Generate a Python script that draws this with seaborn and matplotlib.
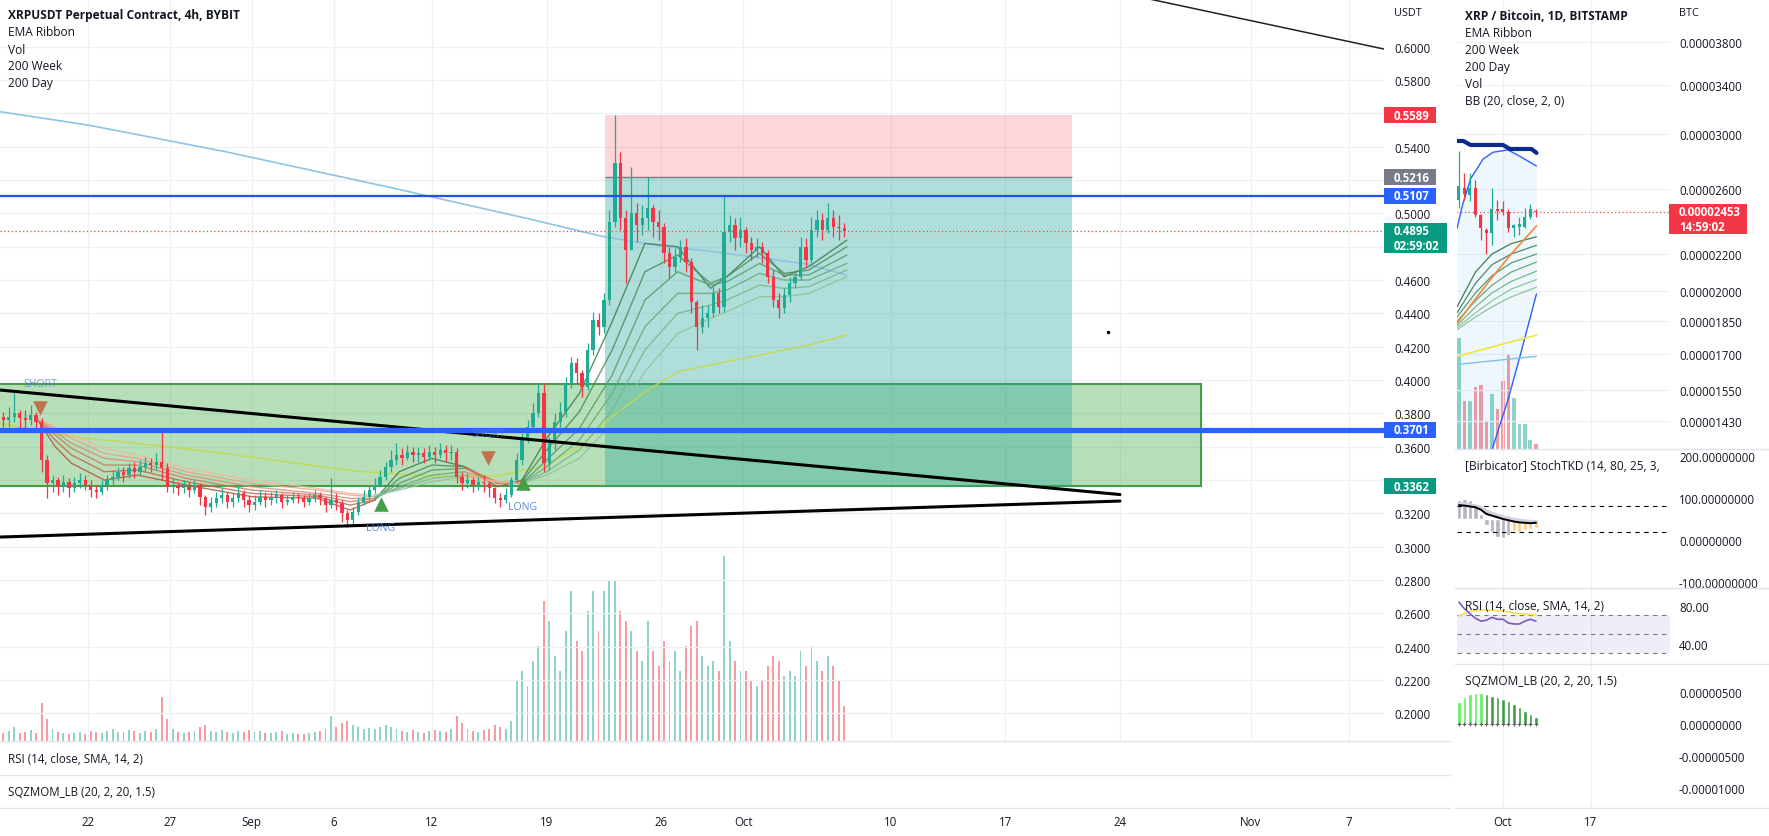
import numpy as np
import seaborn as sns
import matplotlib.pyplot as plt
from matplotlib.patches import Rectangle
from matplotlib.lines import Line2D
from matplotlib.ticker import NullLocator

# =================================================================
# 1. Data
# =================================================================
# --- left chart: XRPUSDT, shown here as 8h candles, x = days since Aug 22
CANDLE_START = -16 / 3          # Aug 16, 16:00
CANDLE_STEP = 1 / 3
open_first = 0.378

close_8h = [
    0.376,
    0.378, 0.380, 0.377,  0.376, 0.379, 0.375,  0.352, 0.338, 0.340,   # Aug 17-19
    0.336, 0.339, 0.335,  0.338, 0.340, 0.337,  0.334, 0.333, 0.337,   # Aug 20-22
    0.340, 0.342, 0.345,  0.343, 0.347, 0.345,  0.348, 0.350, 0.349,   # Aug 23-25
    0.351, 0.347, 0.336,  0.337, 0.335, 0.336,  0.334, 0.337, 0.330,   # Aug 26-28
    0.324, 0.326, 0.329,  0.331, 0.327, 0.329,  0.332, 0.328, 0.325,   # Aug 29-31
    0.327, 0.330, 0.328,  0.329, 0.331, 0.327,  0.328, 0.330, 0.329,   # Sep 1-3
    0.327, 0.329, 0.331,  0.329, 0.325, 0.328,  0.326, 0.320, 0.316,   # Sep 4-6
    0.321, 0.327, 0.330,  0.334, 0.337, 0.342,  0.348, 0.352, 0.355,   # Sep 7-9
    0.353, 0.357, 0.355,  0.356, 0.354, 0.357,  0.355, 0.358, 0.356,   # Sep 10-12
    0.357, 0.342, 0.338,  0.340, 0.337, 0.339,  0.338, 0.335, 0.329,   # Sep 13-15
    0.328, 0.331, 0.340,  0.352, 0.365, 0.372,  0.380, 0.392, 0.350,   # Sep 16-18
    0.362, 0.375, 0.381,  0.398, 0.410, 0.404,  0.396, 0.418, 0.436,   # Sep 19-21
    0.432, 0.448, 0.495,  0.530, 0.497, 0.478,  0.500, 0.493, 0.497,   # Sep 22-24
    0.503, 0.495, 0.492,  0.476, 0.468, 0.474,  0.480, 0.471, 0.447,   # Sep 25-27
    0.432, 0.437, 0.440,  0.452, 0.444, 0.489,  0.493, 0.485, 0.490,   # Sep 28-30
    0.482, 0.478, 0.480,  0.476, 0.462, 0.448,  0.443, 0.451, 0.458,   # Oct 1-3
    0.462, 0.480, 0.472,  0.490, 0.496, 0.490,  0.497, 0.492, 0.491,   # Oct 4-6
    0.4895,
]
high_8h = [
    0.381,
    0.384, 0.393, 0.382,  0.382, 0.385, 0.381,  0.377, 0.355, 0.343,
    0.342, 0.343, 0.341,  0.342, 0.344, 0.343,  0.340, 0.337, 0.340,
    0.343, 0.346, 0.348,  0.348, 0.350, 0.351,  0.352, 0.354, 0.353,
    0.356, 0.370, 0.350,  0.341, 0.339, 0.340,  0.339, 0.340, 0.338,
    0.331, 0.330, 0.333,  0.335, 0.333, 0.332,  0.336, 0.334, 0.331,
    0.331, 0.334, 0.333,  0.333, 0.334, 0.332,  0.331, 0.333, 0.332,
    0.331, 0.332, 0.334,  0.333, 0.330, 0.341,  0.332, 0.328, 0.322,
    0.324, 0.330, 0.334,  0.337, 0.341, 0.346,  0.351, 0.358, 0.362,
    0.359, 0.361, 0.360,  0.360, 0.359, 0.361,  0.360, 0.362, 0.361,
    0.361, 0.359, 0.345,  0.344, 0.342, 0.342,  0.343, 0.339, 0.336,
    0.332, 0.335, 0.342,  0.356, 0.368, 0.376,  0.386, 0.398, 0.398,
    0.366, 0.380, 0.387,  0.402, 0.414, 0.413,  0.406, 0.422, 0.441,
    0.440, 0.452, 0.502,  0.559, 0.537, 0.502,  0.528, 0.506, 0.505,
    0.522, 0.505, 0.502,  0.494, 0.480, 0.479,  0.484, 0.485, 0.473,
    0.448, 0.445, 0.445,  0.456, 0.455, 0.511,  0.499, 0.497, 0.498,
    0.492, 0.486, 0.485,  0.483, 0.478, 0.466,  0.452, 0.455, 0.462,
    0.466, 0.486, 0.485,  0.498, 0.502, 0.500,  0.506, 0.502, 0.499,
    0.494,
]
low_8h = [
    0.372,
    0.372, 0.375, 0.371,  0.370, 0.373, 0.369,  0.345, 0.329, 0.333,
    0.331, 0.333, 0.330,  0.333, 0.335, 0.334,  0.330, 0.329, 0.331,
    0.334, 0.337, 0.340,  0.339, 0.341, 0.341,  0.343, 0.345, 0.345,
    0.346, 0.340, 0.333,  0.332, 0.331, 0.332,  0.330, 0.332, 0.325,
    0.319, 0.321, 0.324,  0.326, 0.323, 0.324,  0.327, 0.324, 0.321,
    0.322, 0.325, 0.324,  0.325, 0.326, 0.323,  0.325, 0.326, 0.326,
    0.324, 0.325, 0.327,  0.325, 0.321, 0.323,  0.322, 0.315, 0.312,
    0.313, 0.319, 0.325,  0.328, 0.332, 0.336,  0.340, 0.345, 0.349,
    0.349, 0.352, 0.351,  0.351, 0.350, 0.352,  0.350, 0.353, 0.351,
    0.352, 0.338, 0.334,  0.335, 0.333, 0.334,  0.333, 0.330, 0.326,
    0.324, 0.326, 0.330,  0.338, 0.349, 0.362,  0.370, 0.378, 0.345,
    0.346, 0.358, 0.372,  0.378, 0.395, 0.398,  0.390, 0.394, 0.415,
    0.427, 0.428, 0.445,  0.492, 0.490, 0.458,  0.478, 0.483, 0.487,
    0.490, 0.486, 0.484,  0.470, 0.461, 0.465,  0.471, 0.465, 0.440,
    0.418, 0.428, 0.432,  0.438, 0.440, 0.441,  0.483, 0.478, 0.480,
    0.476, 0.472, 0.474,  0.470, 0.458, 0.444,  0.437, 0.440, 0.447,
    0.455, 0.460, 0.468,  0.470, 0.486, 0.484,  0.488, 0.486, 0.484,
    0.486,
]
vol_8h = [
    8,
    10, 14, 8,   9, 11, 8,   38, 22, 12,
    9, 8, 7,     8, 9, 7,    10, 9, 8,
    10, 12, 9,   9, 11, 10,  8, 10, 9,
    12, 44, 22,  12, 9, 8,   9, 10, 14,
    16, 10, 9,   11, 9, 8,   10, 9, 11,
    9, 10, 8,    8, 9, 10,   7, 8, 7,
    7, 8, 9,     10, 12, 25, 14, 18, 20,
    16, 14, 12,  13, 12, 14, 16, 14, 12,
    10, 9, 11,   9, 8, 10,   11, 10, 9,
    12, 25, 18,  12, 10, 9,  11, 12, 16,
    14, 12, 20,  60, 70, 55, 80, 95, 140,
    120, 85, 70, 110, 150, 100, 90, 130, 150,
    110, 150, 160, 160, 130, 120, 110, 90, 80,
    120, 90, 75, 100, 80, 90, 70, 95, 115,
    120, 85, 75, 80, 70, 185, 100, 80, 70,
    70, 60, 55,  60, 75, 85, 80, 65, 70,
    65, 90, 75,  95, 80, 70, 85, 75, 60,
    35,
]

# moving averages on the left chart
ma_blue_days = [-5.37, 0, 8.4, 18.7, 27.0, 31.3, 34.9, 38.2, 41.5, 43.9, 46.3]
ma_blue_vals = [0.561, 0.553, 0.537, 0.515, 0.4965, 0.4864, 0.4805, 0.477, 0.4727, 0.4696, 0.463]
ma_yellow_days = [-5.37, -1, 2.5, 7.7, 16.4, 20.8, 25, 27.7, 30, 32, 34, 36, 40, 44, 46.3]
ma_yellow_vals = [0.374, 0.366, 0.3625, 0.3567, 0.3453, 0.3424, 0.3425, 0.348, 0.36, 0.378,
                  0.393, 0.405, 0.413, 0.421, 0.427]

# EMA ribbon (fast -> slow)
ribbon_days = [-3, -2, -1, 1, 3, 6, 10, 14, 16, 17.5, 19, 21, 23, 25, 26.5, 28, 30, 32, 34,
               36, 38, 39, 41, 42.5, 44, 46.33]
ribbon_1 = [.375, .360, .350, .340, .343, .337, .330, .329, .322, .328, .345, .353, .348, .336,
            .340, .365, .392, .435, .482, .480, .455, .462, .480, .462, .468, .484]
ribbon_2 = [.375, .364, .355, .345, .346, .339, .332, .330, .325, .328, .341, .349, .348, .338,
            .339, .358, .381, .418, .465, .475, .458, .462, .476, .464, .466, .480]
ribbon_3 = [.376, .367, .359, .349, .349, .341, .334, .331, .327, .329, .338, .346, .347, .339,
            .338, .352, .371, .403, .448, .465, .457, .459, .470, .463, .463, .475]
ribbon_4 = [.376, .369, .362, .353, .351, .343, .336, .332, .329, .329, .336, .343, .345, .339,
            .338, .348, .364, .392, .432, .452, .452, .454, .464, .460, .460, .470]
ribbon_5 = [.376, .371, .365, .356, .353, .345, .338, .334, .331, .330, .335, .341, .343, .339,
            .338, .345, .358, .382, .418, .440, .445, .448, .457, .455, .456, .466]
ribbon_6 = [.377, .372, .367, .359, .355, .347, .340, .335, .332, .331, .334, .339, .342, .339,
            .338, .343, .353, .374, .405, .428, .437, .441, .450, .450, .452, .462]
ribbon_up_periods = [(17.5, 23), (26.5, 46.33)]

# drawings
trend_down_days, trend_down_vals = [-5.37, 63.0], [0.394, 0.3313]
trend_up_days, trend_up_vals = [-5.37, 63.0], [0.3058, 0.3274]
trend_top_days, trend_top_vals = [64.8, 79.12], [0.6286, 0.5986]
level_thick, level_thin, last_price = 0.3701, 0.5107, 0.4895
zone_days, zone_prices = (-10, 67.95), (0.3362, 0.3975)
pos_days = (31.56, 60.07)
pos_stop, pos_entry, pos_target = 0.5589, 0.5216, 0.3362
short_days, short_vals = [-2.93, 24.42], [0.3832, 0.3532]
long_days, long_vals = [17.89, 26.56], [0.3256, 0.3382]
stray_dot = (62.3, 0.4288)

price_ticks = [0.20, 0.22, 0.24, 0.26, 0.28, 0.30, 0.32, 0.34, 0.36, 0.38, 0.40,
               0.42, 0.44, 0.46, 0.48, 0.50, 0.52, 0.54, 0.56, 0.58, 0.60]
hidden_ticks = [0.34, 0.48, 0.52, 0.56]      # covered by the price tags
date_tick_days = [0, 5, 10, 15, 21, 28, 35, 40, 49, 56, 63, 71, 77]
date_tick_labels = ["22", "27", "Sep", "6", "12", "19", "26", "Oct", "10", "17", "24", "Nov", "7"]

# --- right chart: XRP / BTC daily, x = days since Oct 1, prices in 1e-6 BTC
r_days = [-8, -7, -6, -5, -4, -3, -2, -1, 0, 1, 2, 3, 4, 5, 6]
r_open = [25.3, 26.1, 25.6, 26.1, 24.3, 23.4, 23.2, 24.7, 24.7, 24.5, 23.5, 23.6, 23.6, 24.2, 24.6]
r_close = [26.2, 25.7, 26.1, 24.3, 23.5, 23.2, 24.7, 24.6, 24.5, 23.5, 23.7, 23.8, 24.2, 24.7, 24.53]
r_high = [28.7, 27.1, 27.1, 26.6, 24.4, 23.5, 26.1, 25.3, 25.2, 24.7, 23.8, 24.2, 24.8, 25.0, 24.7]
r_low = [24.8, 25.3, 25.2, 24.2, 22.8, 22.0, 22.5, 24.0, 24.3, 23.3, 23.0, 23.1, 23.5, 24.1, 24.2]
r_vol = [111, 48, 48, 62, 64, 28, 55, 40, 68, 95, 51, 25, 25, 9, 5]
r_last = 24.53

r_rib_days = [-8.36, -5, -2, 1.5, 6.1]
r_rib_lines = {
    "g1": [19.2, 21.0, 22.0, 22.6, 23.0],
    "g2": [18.9, 20.4, 21.4, 22.0, 22.5],
    "g3": [18.7, 19.9, 20.8, 21.5, 22.0],
    "g4": [18.5, 19.5, 20.3, 21.0, 21.55],
    "g5": [18.3, 19.2, 19.9, 20.5, 21.05],
    "g6": [18.2, 18.9, 19.5, 20.1, 20.6],
    "g7": [18.1, 18.7, 19.2, 19.7, 20.2],
}
r_orange = [18.4, 19.6, 20.7, 22.0, 23.65]
r_ma_days = [-8.36, 6.1]
r_yellow = [16.9, 17.85]
r_lightblue = [16.55, 16.9]
r_navy_days = [-8.36, -7.2, -5.9, 0, 1.26, 5.2, 6.1]
r_navy = [29.44, 29.44, 29.14, 29.14, 28.84, 28.84, 28.55]
bb_days = [-8.36, -7.4, -5.9, -3.6, -1.8, 0.9, 3.1, 6.1]
bb_upper = [23.5, 24.9, 26.7, 28.1, 28.6, 28.77, 28.3, 27.6]
bb_lower = [9.5, 10.0, 10.8, 12.2, 13.4, 15.1, 16.9, 19.85]

btc_ticks = [38.0, 34.0, 30.0, 26.0, 22.0, 20.0, 18.5, 17.0, 15.5, 14.3]
btc_labels = ["0.00003800", "0.00003400", "0.00003000", "0.00002600", "0.00002200",
              "0.00002000", "0.00001850", "0.00001700", "0.00001550", "0.00001430"]

stoch_hist = [96, 97, 95, 80, 62, 35, 18, 8, 5, 12, 22, 20, 24, 26, 28]
stoch_k = [83, 82, 80, 78, 72, 62, 58, 54, 50, 47, 44, 42, 41, 40, 41]
stoch_d = [86, 85, 83, 81, 77, 69, 64, 59, 55, 52, 49, 47, 45, 44, 43]
stoch_ticks = [200, 100, 0, -100]
stoch_labels = ["200.00000000", "100.00000000", "0.00000000", "-100.00000000"]

rsi_vals = [84, 77, 72, 67, 64, 65, 68, 66, 66, 62, 61, 61, 64, 66, 64]
rsi_ma = [69.5, 72, 74, 75, 75.5, 75.8, 75.5, 75, 74.5, 73.5, 72.5, 72, 71.5, 71, 70.5]

sqz_vals = [3.4, 4.2, 4.7, 4.85, 4.9, 4.7, 4.4, 4.2, 3.9, 3.6, 3.1, 2.7, 2.0, 1.6, 1.1]
sqz_ticks = [5, 0, -5, -10]
sqz_labels = ["0.00000500", "0.00000000", "-0.00000500", "-0.00001000"]

# =================================================================
# 2. Style
# =================================================================
sns.set_theme(style="white")
plt.rcParams["font.family"] = ["Open Sans", "DejaVu Sans"]
TXT = "#131722"
GRID = "#eef0f4"
SEP = "#e0e3eb"
UP, DN = "#22ab94", "#f23645"
FS = 8.3

W, H = 1769, 837
fig = plt.figure(figsize=(W / 100, H / 100), dpi=100)
fig.patch.set_facecolor("white")


def px_axes(x0, y0, x1, y1):
    a = fig.add_axes([x0 / W, 1 - y1 / H, (x1 - x0) / W, (y1 - y0) / H])
    for s in a.spines.values():
        s.set_visible(False)
    a.tick_params(length=0, labelsize=FS, colors=TXT)
    return a


def candles(ax, x, o, h, l, c, width, min_body, z=3):
    o, h, l, c = (np.asarray(v, float) for v in (o, h, l, c))
    cols = np.where(c >= o, UP, DN)
    ax.vlines(x, l, h, colors=cols, linewidth=0.9, zorder=z)
    ax.bar(x, np.maximum(np.abs(c - o), min_body), bottom=np.minimum(o, c), width=width,
           color=cols, linewidth=0, zorder=z + 0.1)
    return cols


def tag(ax, value, lines, color, x0, w, above=8, below=8, step=15):
    yd = ax.transData.transform((ax.get_xlim()[0], value))[1]
    ytop = H - yd
    fig.add_artist(Rectangle((x0 / W, 1 - (ytop + below) / H), w / W, (above + below) / H,
                             transform=fig.transFigure, facecolor=color, edgecolor="none",
                             zorder=10))
    for k, t in enumerate(lines):
        fig.text((x0 + 10) / W, 1 - (ytop + k * step) / H, t, color="white", fontsize=FS,
                 fontweight="bold", va="center", ha="left", zorder=11)


def sep(x0, x1, y):
    fig.add_artist(Line2D([x0 / W, x1 / W], [1 - y / H] * 2, transform=fig.transFigure,
                          color=SEP, lw=1))


# =================================================================
# 3. Left chart
# =================================================================
ax = px_axes(0, 0, 1384, 742)
axv = ax.twinx()
axv.set_zorder(0)
ax.set_zorder(1)
ax.patch.set_visible(False)
axv.axis("off")

n = len(close_8h)
x_c = CANDLE_START + (np.arange(n) + 0.5) * CANDLE_STEP
open_8h = [open_first] + close_8h[:-1]

for p in price_ticks:
    ax.axhline(p, color=GRID, lw=0.9, zorder=0.2)
for d in date_tick_days:
    ax.axvline(d, color=GRID, lw=0.9, zorder=0.2)

# zone box + long position tool
ax.add_patch(Rectangle((zone_days[0], zone_prices[0]), zone_days[1] - zone_days[0],
                       zone_prices[1] - zone_prices[0], facecolor="#4caf50", alpha=0.4,
                       edgecolor="none", zorder=1))
ax.add_patch(Rectangle((zone_days[0], zone_prices[0]), zone_days[1] - zone_days[0],
                       zone_prices[1] - zone_prices[0], facecolor="none",
                       edgecolor="#43a047", lw=1.5, zorder=1.05))
ax.add_patch(Rectangle((pos_days[0], pos_entry), pos_days[1] - pos_days[0], pos_stop - pos_entry,
                       facecolor="#f23645", alpha=0.2, edgecolor="none", zorder=1.1))
ax.add_patch(Rectangle((pos_days[0], pos_target), pos_days[1] - pos_days[0],
                       pos_entry - pos_target, facecolor="#26a69a", alpha=0.36,
                       edgecolor="none", zorder=1.1))
ax.hlines(pos_entry, pos_days[0], pos_days[1], color="#787b86", lw=1, zorder=1.2)

# moving averages
sns.lineplot(x=ma_blue_days, y=ma_blue_vals, ax=ax, color="#8fc3e6", linewidth=1.2, zorder=2)
sns.lineplot(x=ma_yellow_days, y=ma_yellow_vals, ax=ax, color="#c6d84a", linewidth=1.2,
             alpha=0.8, zorder=2)

# EMA ribbon, coloured by trend
reds = ["#b5533c", "#c0674d", "#cc7b61", "#d88f76", "#e4a38b", "#f0b8a0"]
greens = ["#3d7f4f", "#4b8d5c", "#5a9b69", "#6aa978", "#7cb788", "#8fc59a"]
ribbons = [ribbon_1, ribbon_2, ribbon_3, ribbon_4, ribbon_5, ribbon_6]
rd = np.asarray(ribbon_days)
mid = (rd[:-1] + rd[1:]) / 2
is_up = np.zeros(len(mid), bool)
for a0, a1 in ribbon_up_periods:
    is_up |= (mid > a0) & (mid < a1)
for k, line in enumerate(ribbons):
    line = np.asarray(line)
    start = 0
    for i in range(1, len(mid) + 1):
        if i == len(mid) or is_up[i] != is_up[start]:
            col = greens[k] if is_up[start] else reds[k]
            ax.plot(rd[start:i + 1], line[start:i + 1], color=col, lw=1.0, alpha=0.85, zorder=2.1)
            start = i

# candles + volume
cols = candles(ax, x_c, open_8h, high_8h, low_8h, close_8h, CANDLE_STEP * 0.6, 0.0006)
axv.bar(x_c, vol_8h, width=CANDLE_STEP * 0.35, color=cols, alpha=0.5, linewidth=0)
axv.set_ylim(0, 742)

# trend lines and levels
ax.plot(trend_down_days, trend_down_vals, color="black", lw=2.2, zorder=4)
ax.plot(trend_up_days, trend_up_vals, color="black", lw=2.2, zorder=4)
ax.plot(trend_top_days, trend_top_vals, color="#222222", lw=1.1, zorder=4)
ax.axhline(level_thick, color="#2962ff", lw=3.8, zorder=4.5)
ax.axhline(level_thin, color="#1e53e5", lw=1.6, zorder=4.5)
ax.axhline(last_price, color="#d9534f", lw=0.9, ls=(0, (1, 2)), zorder=4.6)
ax.plot(*stray_dot, marker="o", ms=1.5, color="black", zorder=5)

# signals
ax.scatter(short_days, short_vals, marker="v", s=110, color="#c0683f", alpha=0.9,
           linewidths=0, zorder=5)
ax.scatter(long_days, long_vals, marker="^", s=110, color="#43a047", linewidths=0, zorder=5)
for d, v in zip(short_days, short_vals):
    ax.text(d, v + 0.015, "SHORT", color="#4f7fd0", alpha=0.75, fontsize=7.6, ha="center",
            va="center", zorder=5)
for d, v in zip(long_days, long_vals):
    ax.text(d, v - 0.014, "LONG", color="#3f73d0", alpha=0.85, fontsize=7.6, ha="center",
            va="center", zorder=5)

ax.set_xlim(-5.372, 79.12)
ax.set_ylim(0.18343, 0.62862)
ax.yaxis.tick_right()
ax.set_yticks(price_ticks)
ax.set_yticklabels(["" if p in hidden_ticks else f"{p:.4f}" for p in price_ticks])
ax.tick_params(axis="y", pad=7.2)
ax.set_xticks([])
ax.set_xlabel("")
ax.set_ylabel("")

# collapsed RSI / SQZMOM panes with date axis
ax_rsi = px_axes(0, 742, 1384, 776)
ax_sqz = px_axes(0, 776, 1384, 809)
for a in (ax_rsi, ax_sqz):
    a.set_xlim(ax.get_xlim())
    a.set_yticks([])
ax_rsi.set_xticks([])
ax_sqz.set_xticks(date_tick_days)
ax_sqz.set_xticklabels(date_tick_labels)
ax_sqz.tick_params(axis="x", pad=5)

fig.text(8 / W, 1 - 16 / H, "XRPUSDT Perpetual Contract, 4h, BYBIT", fontsize=FS + 0.3,
         fontweight="bold", color=TXT, va="center")
for i, t in enumerate(["EMA Ribbon", "Vol", "200 Week", "200 Day"]):
    fig.text(8 / W, 1 - (33 + 17 * i) / H, t, fontsize=FS + 0.3, color=TXT, va="center")
fig.text(8 / W, 1 - 760 / H, "RSI (14, close, SMA, 14, 2)", fontsize=FS, color=TXT, va="center")
fig.text(8 / W, 1 - 793 / H, "SQZMOM_LB (20, 2, 20, 1.5)", fontsize=FS, color=TXT, va="center")
fig.text(1394 / W, 1 - 13 / H, "USDT", fontsize=FS - 0.5, color=TXT, va="center")

tag(ax, pos_stop, ["0.5589"], "#f23645", 1384, 52)
tag(ax, pos_entry, ["0.5216"], "#787b86", 1384, 52)
tag(ax, level_thin, ["0.5107"], "#2962ff", 1384, 52)
tag(ax, last_price, ["0.4895", "02:59:02"], "#089981", 1384, 63, above=8, below=22)
tag(ax, level_thick, ["0.3701"], "#2962ff", 1384, 52)
tag(ax, pos_target, ["0.3362"], "#089981", 1384, 52)

for y in (742, 776, 809):
    sep(0, 1450, y)

# =================================================================
# 4. Right chart: XRP / BTC daily
# =================================================================
R_XLIM = (-8.36, 30.4)
rax = px_axes(1457, 0, 1670, 450)
rvax = rax.twinx()
rvax.set_zorder(0)
rax.set_zorder(1)
rax.patch.set_visible(False)
rvax.axis("off")
rax.set_yscale("log")

for p in btc_ticks:
    rax.axhline(p * 1e-6, color=GRID, lw=0.9, zorder=0.2)
for d in (0, 16):
    rax.axvline(d, color=GRID, lw=0.9, zorder=0.2)

e6 = lambda v: np.asarray(v) * 1e-6
rax.fill_between(bb_days, e6(bb_lower), e6(bb_upper), color="#2196f3", alpha=0.07, lw=0, zorder=1)
sns.lineplot(x=bb_days, y=e6(bb_upper), ax=rax, color="#2962ff", linewidth=1, zorder=2)
sns.lineplot(x=bb_days, y=e6(bb_lower), ax=rax, color="#2962ff", linewidth=1, zorder=2)
sns.lineplot(x=r_navy_days, y=e6(r_navy), ax=rax, color="#0d2b8a", linewidth=3, zorder=2)
sns.lineplot(x=r_ma_days, y=e6(r_yellow), ax=rax, color="#f0e442", linewidth=1.2, zorder=2)
sns.lineplot(x=r_ma_days, y=e6(r_lightblue), ax=rax, color="#7ec3e6", linewidth=1, zorder=2)
for k, (name, vals) in enumerate(r_rib_lines.items()):
    rax.plot(r_rib_days, e6(vals), color=greens[min(k, 5)], lw=0.9, zorder=2.1)
rax.plot(r_rib_days, e6(r_orange), color="#ef8a3a", lw=1.2, zorder=2.2)

rcols = candles(rax, r_days, e6(r_open), e6(r_high), e6(r_low), e6(r_close), 0.55, 0.05e-6)
rvax.bar(r_days, r_vol, width=0.7, color=rcols, alpha=0.5, linewidth=0)
rvax.set_ylim(0, 450)
rax.axhline(r_last * 1e-6, color="#d9534f", lw=0.9, ls=(0, (1, 2)), zorder=4)

rax.set_xlim(*R_XLIM)
rax.set_ylim(13.31e-6, 42.45e-6)
rax.yaxis.tick_right()
rax.set_yticks(e6(btc_ticks))
rax.set_yticklabels(btc_labels)
rax.yaxis.set_minor_locator(NullLocator())
rax.tick_params(axis="y", pad=6.5)
rax.set_xticks([])
rax.set_xlabel("")
rax.set_ylabel("")

# stochastic pane
rs = px_axes(1457, 450, 1670, 589)
for d in (0, 16):
    rs.axvline(d, color=GRID, lw=0.9, zorder=0.2)
hist_cols = ["#b2b5be"] * 10 + ["#ffcc80"] * 5
rs.bar(r_days, np.asarray(stoch_hist) - 50, bottom=50, width=0.75, color=hist_cols, zorder=1)
rs.fill_between(r_days, stoch_k, stoch_d, color="#f5a623", alpha=0.55, lw=0, zorder=2)
rs.plot(r_days, stoch_d, color="#d1d4dc", lw=2.5, zorder=2.1)
rs.plot(r_days, stoch_k, color="black", lw=1.4, zorder=2.2)
for lv in (80, 20):
    rs.axhline(lv, color="black", lw=0.8, ls=(0, (4, 4)), zorder=1.5)
rs.set_xlim(*R_XLIM)
rs.set_ylim(-114.3, 216.7)
rs.yaxis.tick_right()
rs.set_yticks(stoch_ticks)
rs.set_yticklabels(stoch_labels)
rs.tick_params(axis="y", pad=6.5)
rs.set_xticks([])

# RSI pane
rr = px_axes(1457, 589, 1670, 665)
for d in (0, 16):
    rr.axvline(d, color=GRID, lw=0.9, zorder=0.2)
rr.axhspan(30, 70, color="#7e57c2", alpha=0.1, lw=0, zorder=0.5)
for lv in (70, 50, 30):
    rr.axhline(lv, color="#787b86", lw=0.8, ls=(0, (4, 4)), zorder=1)
rr.plot(r_days, rsi_ma, color="#f5e050", lw=1.2, zorder=2)
rr.plot(r_days, rsi_vals, color="#7e57c2", lw=1.2, zorder=2.1)
rr.set_xlim(*R_XLIM)
rr.set_ylim(18.9, 98.9)
rr.yaxis.tick_right()
rr.set_yticks([80, 40])
rr.set_yticklabels(["80.00", "40.00"])
rr.tick_params(axis="y", pad=6.5)
rr.set_xticks([])

# squeeze momentum pane
rq = px_axes(1457, 665, 1670, 809)
for d in (0, 16):
    rq.axvline(d, color=GRID, lw=0.9, zorder=0.2)
sq = np.asarray(sqz_vals)
rising = np.r_[True, sq[1:] > sq[:-1]]
rq.bar(r_days, sq * 1e-6, width=0.6, color=np.where(rising, "#5ef05e", "#3f9c45"), zorder=1)
rq.scatter(r_days, np.zeros(len(r_days)), marker="+", s=12, color="#606060", linewidths=0.8,
           zorder=2)
rq.set_xlim(*R_XLIM)
rq.set_ylim(-13.125e-6, 9.375e-6)
rq.yaxis.tick_right()
rq.set_yticks(np.asarray(sqz_ticks) * 1e-6)
rq.set_yticklabels(sqz_labels)
rq.tick_params(axis="y", pad=6.5)
rq.set_xticks([0, 16])
rq.set_xticklabels(["Oct", "17"])
rq.tick_params(axis="x", pad=5)

fig.text(1465 / W, 1 - 17 / H, "XRP / Bitcoin, 1D, BITSTAMP", fontsize=FS + 0.3,
         fontweight="bold", color=TXT, va="center")
for i, t in enumerate(["EMA Ribbon", "200 Week", "200 Day", "Vol", "BB (20, close, 2, 0)"]):
    fig.text(1465 / W, 1 - (33.5 + 17 * i) / H, t, fontsize=FS + 0.3, color=TXT, va="center")
fig.text(1465 / W, 1 - 467 / H, "[Birbicator] StochTKD (14, 80, 25, 3,", fontsize=FS + 0.3,
         color=TXT, va="center")
fig.text(1465 / W, 1 - 607 / H, "RSI (14, close, SMA, 14, 2)", fontsize=FS + 0.3, color=TXT,
         va="center")
fig.text(1465 / W, 1 - 682 / H, "SQZMOM_LB (20, 2, 20, 1.5)", fontsize=FS + 0.3, color=TXT,
         va="center")
fig.text(1679 / W, 1 - 13 / H, "BTC", fontsize=FS - 0.5, color=TXT, va="center")

tag(rax, r_last * 1e-6, ["0.00002453", "14:59:02"], "#f23645", 1669, 78, above=8, below=22)

for y in (450, 589, 665, 809):
    sep(1455, W, y)

fig.savefig("out.png", dpi=100, facecolor="white")
print("saved out.png")
